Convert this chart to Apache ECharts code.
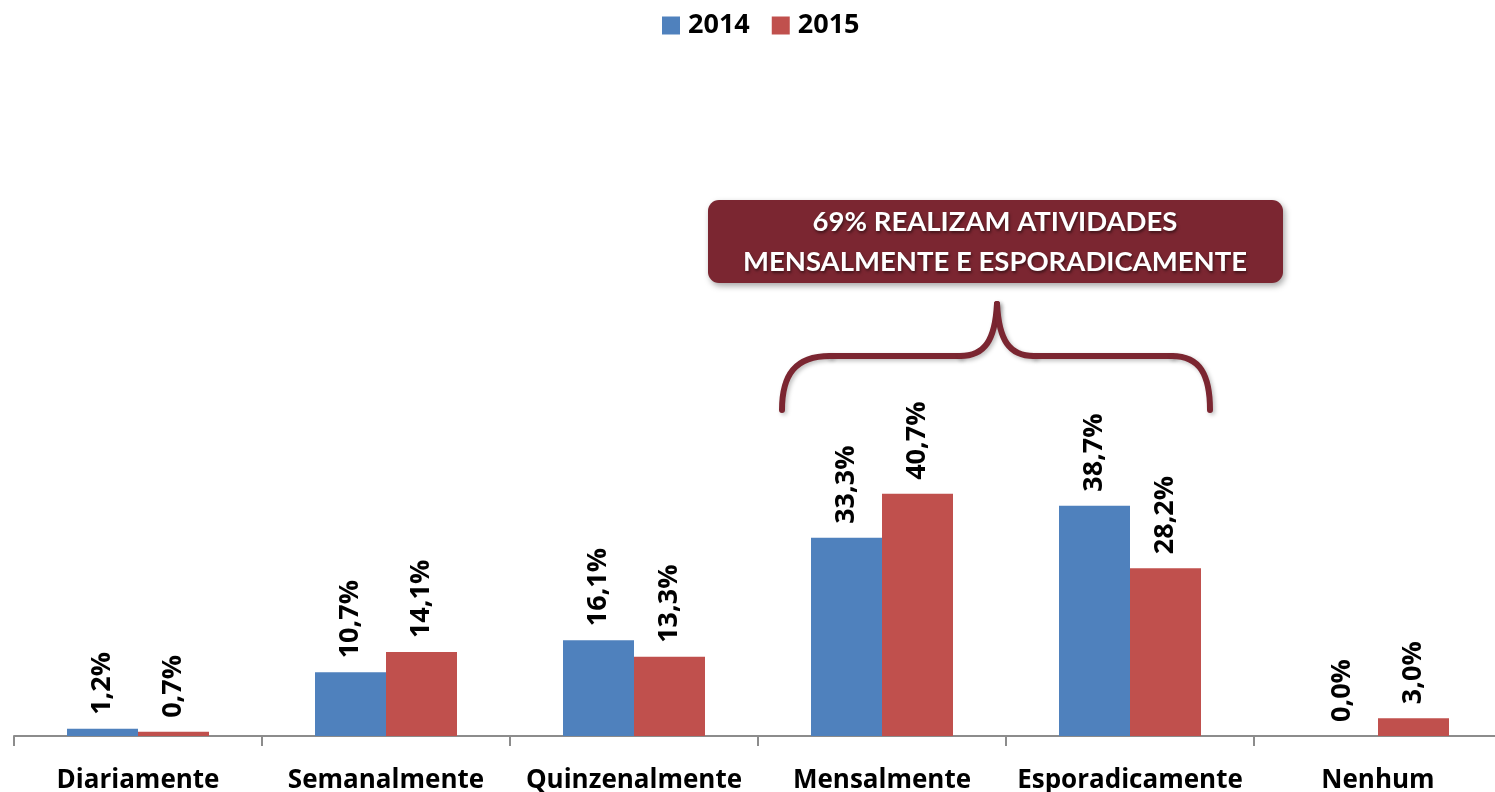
<!DOCTYPE html>
<html>
<head>
<meta charset="utf-8">
<script src="https://cdn.jsdelivr.net/npm/echarts@6/dist/echarts.min.js"></script>
<style>
  html, body { margin: 0; padding: 0; background: #fff; }
  #main { width: 1495px; height: 792px; }
</style>
</head>
<body>
<div id="main"></div>
<script>
// categorias e valores (%)
var categories = ['Diariamente', 'Semanalmente', 'Quinzenalmente', 'Mensalmente', 'Esporadicamente', 'Nenhum']
var series2014 = [1.2, 10.7, 16.1, 33.3, 38.7, 0.0]
var series2015 = [0.7, 14.1, 13.3, 40.7, 28.2, 3.0]
var seriesNames = ['2014', '2015']
var calloutLines = ['69% REALIZAM ATIVIDADES', 'MENSALMENTE E ESPORADICAMENTE']

var FONT = 'Open Sans'
var WINE = '#7B2631'

var myChart = echarts.init(document.getElementById('main'))

// rótulo percentual com vírgula
function pct(p) {
  return p.value.toFixed(1).replace('.', ',') + '%'
}

var labelStyle = {
  show: true,
  position: 'top',
  rotate: 90,
  align: 'left',
  verticalAlign: 'middle',
  distance: 14,
  formatter: pct,
  fontFamily: FONT,
  fontWeight: 'bold',
  fontSize: 27,
  color: '#000'
}

// chave (brace) em segmentos
var braceStyle = {
  stroke: WINE,
  lineWidth: 6,
  lineCap: 'round',
  fill: 'none',
  shadowBlur: 4,
  shadowOffsetX: 2,
  shadowOffsetY: 2,
  shadowColor: 'rgba(0,0,0,0.25)'
}
function curve(x1, y1, c1x, c1y, c2x, c2y, x2, y2) {
  return {
    type: 'bezierCurve',
    shape: { x1: x1, y1: y1, cpx1: c1x, cpy1: c1y, cpx2: c2x, cpy2: c2y, x2: x2, y2: y2 },
    style: braceStyle
  }
}
function seg(x1, y1, x2, y2) {
  return { type: 'line', shape: { x1: x1, y1: y1, x2: x2, y2: y2 }, style: braceStyle }
}

myChart.setOption({
  animation: false,
  legend: {
    top: 12,
    left: 662,
    padding: 0,
    itemWidth: 18,
    itemHeight: 18,
    itemGap: 22,
    icon: 'rect',
    textStyle: { fontFamily: FONT, fontWeight: 'bold', fontSize: 27, color: '#000', padding: [0, 0, 0, 3] },
    data: seriesNames
  },
  grid: { left: 14, top: 141, width: 1488, height: 595, outerBoundsMode: 'none', containLabel: false },
  xAxis: {
    type: 'category',
    data: categories,
    axisLine: { lineStyle: { color: '#8c8c8c', width: 2 } },
    axisTick: { show: true, length: 10, lineStyle: { color: '#8c8c8c', width: 2 } },
    axisLabel: {
      margin: 32,
      fontFamily: FONT,
      fontWeight: 'bold',
      fontSize: 26,
      color: '#000',
      interval: 0
    }
  },
  yAxis: {
    type: 'value',
    min: 0,
    max: 100,
    show: false,
    splitLine: { show: false }
  },
  series: [
    {
      name: seriesNames[0],
      type: 'bar',
      data: series2014,
      barWidth: 71,
      barGap: '0%',
      itemStyle: { color: '#4F81BD' },
      label: labelStyle
    },
    {
      name: seriesNames[1],
      type: 'bar',
      data: series2015,
      barWidth: 71,
      barGap: '0%',
      itemStyle: { color: '#C0504D' },
      label: labelStyle
    }
  ],
  graphic: [
    {
      type: 'rect',
      shape: { x: 708, y: 200, width: 575, height: 83, r: 11 },
      style: {
        fill: WINE,
        shadowBlur: 6,
        shadowOffsetX: 2,
        shadowOffsetY: 3,
        shadowColor: 'rgba(0,0,0,0.35)'
      }
    },
    {
      type: 'text',
      x: 995,
      y: 242,
      style: {
        text: calloutLines.join('\n'),
        align: 'center',
        verticalAlign: 'middle',
        fontFamily: 'Lato',
        fontWeight: 'bold',
        fontSize: 27.5,
        lineHeight: 40,
        fill: '#fff',
        textShadowBlur: 3,
        textShadowOffsetX: 1,
        textShadowOffsetY: 2,
        textShadowColor: 'rgba(0,0,0,0.5)'
      }
    },
    curve(782, 410, 782, 375, 795, 356, 830, 356),
    seg(830, 356, 960, 356),
    curve(960, 356, 985, 356, 995, 340, 997, 304),
    curve(997, 304, 999, 340, 1009, 356, 1034, 356),
    seg(1034, 356, 1172, 356),
    curve(1172, 356, 1200, 356, 1210, 375, 1210, 410)
  ]
})
</script>
</body>
</html>
